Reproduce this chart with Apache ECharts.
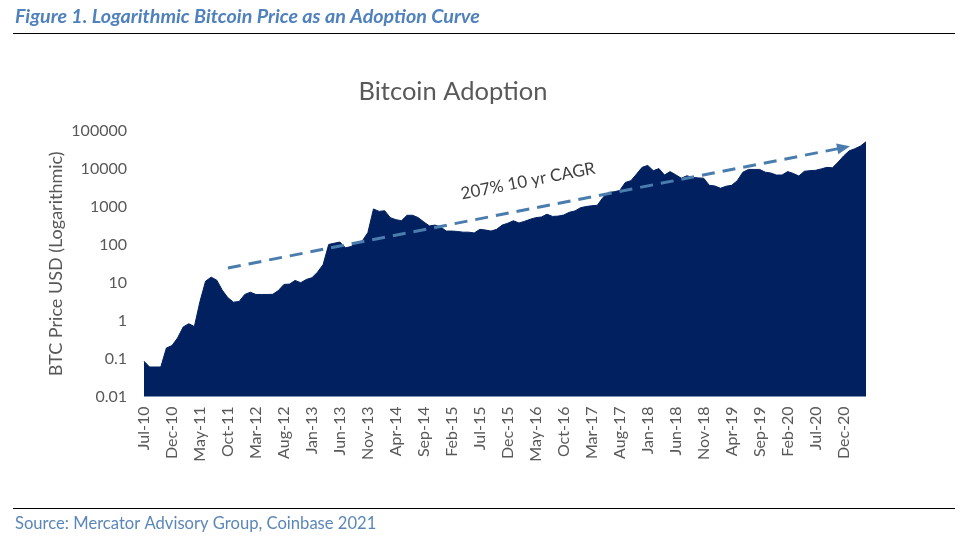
<!DOCTYPE html>
<html>
<head>
<meta charset="utf-8">
<style>html,body{margin:0;padding:0;background:#fff}#main{width:968px;height:545px}</style>
<script src="https://cdn.jsdelivr.net/npm/echarts@6/dist/echarts.min.js"></script>
</head>
<body>
<div id="main"></div>
<script>
var months = [
    'Jul-10','Aug-10','Sep-10','Oct-10','Nov-10','Dec-10',
    'Jan-11','Feb-11','Mar-11','Apr-11','May-11','Jun-11','Jul-11','Aug-11','Sep-11','Oct-11','Nov-11','Dec-11',
    'Jan-12','Feb-12','Mar-12','Apr-12','May-12','Jun-12','Jul-12','Aug-12','Sep-12','Oct-12','Nov-12','Dec-12',
    'Jan-13','Feb-13','Mar-13','Apr-13','May-13','Jun-13','Jul-13','Aug-13','Sep-13','Oct-13','Nov-13','Dec-13',
    'Jan-14','Feb-14','Mar-14','Apr-14','May-14','Jun-14','Jul-14','Aug-14','Sep-14','Oct-14','Nov-14','Dec-14',
    'Jan-15','Feb-15','Mar-15','Apr-15','May-15','Jun-15','Jul-15','Aug-15','Sep-15','Oct-15','Nov-15','Dec-15',
    'Jan-16','Feb-16','Mar-16','Apr-16','May-16','Jun-16','Jul-16','Aug-16','Sep-16','Oct-16','Nov-16','Dec-16',
    'Jan-17','Feb-17','Mar-17','Apr-17','May-17','Jun-17','Jul-17','Aug-17','Sep-17','Oct-17','Nov-17','Dec-17',
    'Jan-18','Feb-18','Mar-18','Apr-18','May-18','Jun-18','Jul-18','Aug-18','Sep-18','Oct-18','Nov-18','Dec-18',
    'Jan-19','Feb-19','Mar-19','Apr-19','May-19','Jun-19','Jul-19','Aug-19','Sep-19','Oct-19','Nov-19','Dec-19',
    'Jan-20','Feb-20','Mar-20','Apr-20','May-20','Jun-20','Jul-20','Aug-20','Sep-20','Oct-20','Nov-20','Dec-20',
    'Jan-21','Feb-21','Mar-21','Apr-21'
];
var prices = [
    0.085,0.06,0.06,0.06,0.19,0.22,
    0.35,0.68,0.83,0.7,3.2,11,14,11.7,6.3,4,3.07,3.2,
    4.9,5.6,4.9,4.9,4.9,4.95,6.2,9,9.2,11.5,10,12.2,
    13.5,19,30,102,110,118,83,90,115,126,210,880,
    760,790,520,460,430,600,600,520,400,315,330,295,
    230,230,225,215,215,205,255,245,230,255,330,370,
    430,375,415,470,520,540,640,560,570,610,720,780,
    950,1020,1070,1100,1770,2400,2500,2700,4400,4900,7300,11000,
    12400,9000,10200,6900,8500,7000,5700,6600,6000,5800,5700,3700,
    3550,3100,3500,3700,4900,8200,9700,9700,9700,8200,7800,6900,
    6900,8500,7600,6500,8700,9000,9200,10000,11000,10700,15000,22000,
    30000,34000,40000,52000
];
var trendStart = [14.5, 24.5];
var trendEnd = [124.8, 36500];

var myChart = echarts.init(document.getElementById('main'));
var option = {
    backgroundColor: '#fff',
    animation: false,
    textStyle: { fontFamily: 'Lato' },
    title: [
        {
            text: 'Figure 1. Logarithmic Bitcoin Price as an Adoption Curve',
            left: 10, top: 2,
            textStyle: { color: '#4f81bd', fontSize: 19.7, fontWeight: 'bold', fontStyle: 'italic', fontFamily: 'Lato' }
        },
        {
            text: 'Bitcoin Adoption',
            left: 448, top: 74, textAlign: 'center',
            textStyle: { color: '#595959', fontSize: 25.5, fontWeight: 'normal', fontFamily: 'Lato' }
        },
        {
            text: 'Source: Mercator Advisory Group, Coinbase 2021',
            left: 10, top: 510,
            textStyle: { color: '#5b87b8', fontSize: 16.6, fontWeight: 'normal', fontFamily: 'Lato' }
        }
    ],
    grid: { left: 144, right: 102, top: 131, bottom: 148.5 },
    xAxis: {
        type: 'category',
        boundaryGap: false,
        data: months,
        axisTick: { show: false },
        axisLine: { show: false },
        axisLabel: { interval: 4, rotate: 90, color: '#595959', fontSize: 16, margin: 10, fontFamily: 'Lato' }
    },
    yAxis: {
        type: 'log',
        logBase: 10,
        min: 0.01,
        max: 100000,
        name: 'BTC Price USD (Logarithmic)',
        nameLocation: 'middle',
        nameGap: 79,
        nameMoveOverlap: false,
        nameTextStyle: { color: '#595959', fontSize: 18, fontFamily: 'Lato' },
        axisLine: { show: false },
        axisTick: { show: false },
        splitLine: { show: false },
        axisLabel: {
            color: '#595959', fontSize: 16, margin: 17, fontFamily: 'Lato',
            formatter: function (v) { return String(v); }
        }
    },
    series: [
        {
            type: 'line',
            data: prices,
            symbol: 'none',
            lineStyle: { color: '#002060', width: 1 },
            areaStyle: { color: '#002060', opacity: 1, origin: 'start' },
            markLine: {
                silent: true,
                symbol: ['none', 'triangle'],
                symbolSize: [11, 13],
                label: { show: false },
                lineStyle: { color: '#4a7dae', width: 3, type: [13, 8], opacity: 1 },
                data: [[
                    { coord: trendStart },
                    { coord: trendEnd }
                ]]
            }
        }
    ],
    graphic: [
        { type: 'line', shape: { x1: 13, y1: 33.5, x2: 955, y2: 33.5 }, style: { stroke: '#000', lineWidth: 1 } },
        { type: 'line', shape: { x1: 13, y1: 508.5, x2: 955, y2: 508.5 }, style: { stroke: '#000', lineWidth: 1 } },
        {
            type: 'text',
            x: 528, y: 181,
            rotation: 11 * Math.PI / 180,
            style: {
                text: '207% 10 yr CAGR',
                fill: '#404040',
                font: '17px Lato',
                textAlign: 'center',
                textVerticalAlign: 'middle'
            }
        }
    ]
};
myChart.setOption(option);
</script>
</body>
</html>
